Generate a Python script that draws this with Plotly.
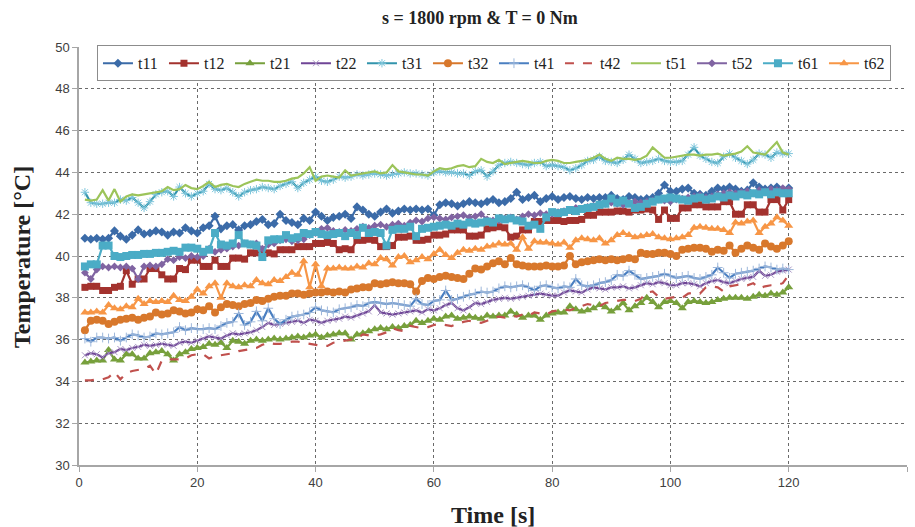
import plotly.graph_objects as go

time_s = list(range(1, 121))

t11 = [40.85, 40.80, 40.85, 40.80, 40.85, 41.20, 40.95, 40.80, 41.00, 41.25,
       41.05, 41.10, 41.20, 41.15, 41.00, 41.15, 41.10, 41.35, 41.20, 41.10,
       41.35, 41.45, 41.90, 41.30, 41.45, 41.50, 41.25, 41.45, 41.50, 41.65,
       41.75, 41.50, 41.55, 42.00, 41.70, 41.60, 41.50, 41.80, 41.70, 42.10,
       41.90, 41.70, 41.85, 41.90, 42.00, 41.80, 42.35, 42.20, 42.00, 41.90,
       42.10, 42.25, 42.05, 42.15, 42.25, 42.20, 42.25, 42.20, 42.25, 41.95,
       42.45, 42.55, 42.50, 42.40, 42.50, 42.60, 42.55, 42.50, 42.60, 42.70,
       42.55, 42.60, 42.75, 43.05, 42.70, 42.80, 42.90, 42.60, 42.75, 42.85,
       42.70, 42.80, 42.85, 42.75, 42.70, 42.80, 42.75, 42.80, 42.80, 42.90,
       42.75, 42.70, 42.85, 42.80, 42.70, 42.75, 42.80, 43.00, 43.40, 43.10,
       43.10, 43.20, 43.25, 43.00, 42.95, 42.90, 43.10, 43.25, 43.20, 43.30,
       43.20, 43.10, 43.15, 43.50, 43.30, 43.20, 43.25, 43.30, 43.15, 43.25]

t12 = [38.50, 38.55, 38.55, 38.35, 38.35, 38.50, 38.55, 39.30, 38.65, 38.90,
       38.90, 39.40, 39.40, 39.10, 38.90, 38.90, 39.40, 39.35, 39.80, 39.80,
       39.50, 39.50, 39.80, 39.50, 39.50, 39.90, 39.90, 39.85, 40.15, 40.15,
       40.10, 40.15, 40.10, 40.30, 40.30, 40.30, 40.45, 40.45, 40.45, 40.60,
       40.60, 40.65, 40.60, 40.30, 40.35, 40.30, 40.75, 40.75, 40.80, 40.75,
       40.45, 40.45, 40.50, 40.90, 40.90, 40.95, 40.75, 40.75, 40.80, 41.00,
       41.00, 41.05, 41.25, 41.25, 41.25, 40.95, 40.95, 41.00, 41.30, 41.35,
       41.40, 41.35, 40.90, 40.95, 41.25, 41.25, 41.65, 41.65, 41.70, 41.70,
       41.70, 41.65, 41.70, 41.70, 41.75, 41.95, 41.95, 42.10, 42.10, 42.10,
       42.15, 42.15, 42.10, 42.20, 42.20, 42.25, 42.20, 41.75, 42.20, 41.80,
       41.80, 42.30, 42.30, 42.45, 42.45, 42.35, 42.35, 42.35, 42.60, 42.60,
       42.00, 42.00, 42.45, 42.45, 42.10, 42.10, 42.70, 42.70, 42.20, 42.70]

t21 = [34.90, 34.95, 35.00, 35.00, 35.50, 35.05, 35.00, 35.30, 35.30, 35.10,
       35.10, 35.35, 35.40, 35.45, 35.30, 35.00, 35.30, 35.40, 35.55, 35.60,
       35.65, 35.80, 35.75, 35.85, 35.60, 35.95, 35.90, 35.80, 35.95, 36.00,
       35.95, 36.00, 36.05, 36.00, 36.05, 36.10, 36.15, 36.10, 36.20, 36.25,
       36.10, 36.20, 36.25, 36.30, 36.30, 36.00, 36.25, 36.30, 36.40, 36.50,
       36.55, 36.50, 36.60, 36.55, 36.65, 36.70, 36.90, 36.80, 36.90, 37.00,
       36.95, 37.10, 37.15, 37.00, 37.05, 37.10, 37.05, 37.00, 37.15, 37.10,
       37.15, 37.15, 37.35, 37.20, 37.05, 37.15, 37.15, 36.95, 37.15, 37.25,
       37.30, 37.30, 37.60, 37.45, 37.35, 37.40, 37.50, 37.65, 37.55, 37.35,
       37.50, 37.75, 37.40, 37.60, 37.75, 38.00, 37.80, 37.55, 37.80, 37.85,
       37.75, 37.50, 37.80, 37.85, 37.80, 37.75, 37.80, 37.90, 37.95, 38.00,
       38.00, 38.00, 37.95, 38.05, 38.15, 38.10, 38.20, 38.15, 38.25, 38.50]

t22 = [35.25, 35.35, 35.30, 35.15, 35.35, 35.40, 35.55, 35.50, 35.60, 35.65,
       35.75, 35.70, 35.75, 35.80, 35.75, 35.70, 35.85, 35.90, 35.85, 35.95,
       36.05, 36.15, 36.10, 36.05, 36.20, 36.30, 36.25, 36.30, 36.35, 36.45,
       36.60, 36.80, 36.70, 36.75, 36.80, 36.85, 36.90, 36.80, 36.95, 36.90,
       36.80, 36.90, 36.95, 37.00, 37.10, 37.05, 37.15, 37.25, 37.35, 37.65,
       37.30, 37.25, 37.20, 37.25, 37.30, 37.35, 37.40, 37.30, 37.45, 37.40,
       37.50, 37.65, 37.75, 37.50, 37.40, 37.55, 37.75, 37.70, 37.80, 37.90,
       37.95, 38.00, 37.95, 38.00, 38.05, 38.10, 38.15, 38.20, 38.15, 38.10,
       38.10, 38.25, 38.35, 38.30, 38.25, 38.40, 38.50, 38.45, 38.40, 38.50,
       38.50, 38.55, 38.45, 38.50, 38.60, 38.70, 38.65, 38.75, 38.70, 38.60,
       38.60, 38.70, 38.70, 38.65, 38.55, 38.70, 38.80, 38.85, 38.75, 38.70,
       38.80, 38.90, 38.95, 39.00, 39.30, 39.05, 39.10, 39.25, 39.30, 39.35]

t31 = [43.05, 42.55, 42.50, 42.50, 42.55, 42.55, 42.70, 42.65, 42.80, 42.55,
       42.30, 42.60, 42.95, 43.05, 43.10, 42.85, 43.30, 43.00, 42.85, 43.00,
       43.10, 43.45, 43.20, 43.15, 43.25, 43.05, 42.85, 43.05, 43.15, 43.20,
       43.30, 43.25, 43.20, 43.35, 43.45, 43.55, 43.25, 43.50, 43.65, 43.80,
       43.60, 43.55, 43.65, 43.80, 43.75, 43.80, 43.90, 43.85, 43.90, 43.95,
       43.90, 43.85, 43.90, 43.95, 44.00, 43.95, 43.95, 43.90, 43.85, 44.00,
       44.05, 44.00, 44.00, 43.95, 43.95, 43.85, 44.05, 44.10, 43.80, 44.05,
       44.35, 44.45, 44.50, 44.45, 44.40, 44.35, 44.45, 44.50, 44.30, 44.35,
       44.30, 44.25, 44.10, 44.20, 44.35, 44.55, 44.60, 44.75, 44.55, 44.50,
       44.45, 44.60, 44.85, 44.65, 44.45, 44.50, 44.55, 44.65, 44.55, 44.50,
       44.50, 44.55, 44.85, 45.20, 44.80, 44.65, 44.50, 44.45, 44.75, 44.90,
       44.70, 44.55, 44.40, 44.60, 44.90, 44.85, 44.70, 44.95, 44.90, 44.90]

t32 = [36.45, 36.90, 36.95, 36.90, 36.75, 36.85, 36.95, 37.00, 37.05, 36.95,
       37.05, 37.10, 37.30, 37.20, 37.25, 37.40, 37.35, 37.25, 37.30, 37.45,
       37.40, 37.60, 37.30, 37.55, 37.70, 37.65, 37.60, 37.70, 37.75, 37.90,
       37.85, 37.95, 38.05, 38.10, 38.10, 38.20, 38.20, 38.15, 38.20, 38.25,
       38.25, 38.30, 38.25, 38.30, 38.25, 38.40, 38.45, 38.50, 38.50, 38.70,
       38.65, 38.70, 38.75, 38.70, 38.70, 38.65, 38.30, 38.80, 38.95, 38.90,
       39.00, 39.05, 39.00, 38.95, 38.90, 39.15, 39.40, 39.35, 39.50, 39.65,
       39.75, 39.60, 39.90, 39.60, 39.55, 39.50, 39.50, 39.50, 39.55, 39.50,
       39.50, 39.55, 40.00, 39.60, 39.70, 39.75, 39.80, 39.85, 39.80, 39.85,
       39.80, 39.85, 39.90, 39.85, 40.15, 40.10, 40.10, 40.15, 40.15, 40.10,
       40.00, 40.30, 40.35, 40.40, 40.40, 40.35, 40.20, 40.30, 40.25, 40.50,
       40.15, 40.35, 40.50, 40.40, 40.30, 40.60, 40.45, 40.35, 40.50, 40.70]

t41 = [36.05, 35.90, 36.10, 36.10, 36.05, 36.10, 35.95, 36.10, 36.25, 36.20,
       36.10, 36.15, 36.30, 36.25, 36.30, 36.35, 36.60, 36.45, 36.55, 36.50,
       36.50, 36.55, 36.50, 36.65, 36.80, 36.85, 37.25, 36.70, 36.85, 37.35,
       36.90, 37.50, 37.00, 36.75, 36.95, 37.10, 37.15, 37.20, 37.30, 37.55,
       37.40, 37.35, 37.30, 37.45, 37.50, 37.55, 37.65, 37.60, 37.75, 37.80,
       37.75, 37.70, 37.75, 37.70, 37.65, 37.60, 37.95, 37.70, 37.65, 37.85,
       37.90, 38.35, 37.90, 37.95, 38.05, 38.15, 38.20, 38.30, 38.25, 38.30,
       38.45, 38.55, 38.50, 38.55, 38.60, 38.50, 38.35, 38.55, 38.60, 38.50,
       38.45, 38.55, 38.50, 38.90, 38.60, 38.55, 38.60, 38.70, 38.75, 38.85,
       39.10, 39.05, 39.30, 39.10, 38.90, 38.95, 39.00, 39.05, 39.15, 39.05,
       38.95, 39.00, 39.05, 38.95, 38.90, 39.00, 39.10, 39.45, 39.20, 38.95,
       39.15, 39.20, 39.25, 39.30, 39.40, 39.50, 39.45, 39.35, 39.40, 39.35]

t42 = [34.05, 34.05, 34.10, 34.10, 34.20, 34.45, 34.10, 34.40, 34.50, 34.55,
       34.60, 34.75, 34.35, 35.00, 35.05, 35.05, 35.05, 35.10, 35.25, 35.30,
       35.30, 35.10, 35.20, 35.25, 35.30, 35.35, 35.45, 35.50, 35.55, 35.60,
       35.75, 35.85, 35.80, 35.80, 35.85, 35.90, 35.90, 35.85, 35.80, 35.75,
       35.70, 35.70, 35.85, 35.90, 35.95, 36.00, 36.05, 36.25, 36.20, 36.20,
       36.25, 36.35, 36.55, 36.45, 36.40, 36.65, 36.60, 36.55, 36.60, 36.70,
       36.75, 36.70, 36.65, 36.75, 36.85, 36.90, 36.85, 36.80, 36.90, 37.05,
       37.10, 37.05, 37.15, 37.10, 37.20, 37.15, 37.30, 37.25, 37.20, 37.35,
       37.40, 37.45, 37.40, 37.50, 37.60, 37.70, 37.65, 37.60, 37.75, 37.80,
       37.85, 37.90, 37.90, 37.85, 37.95, 38.25, 38.30, 38.05, 37.95, 38.00,
       38.05, 38.00, 38.20, 38.25, 38.20, 38.50, 38.55, 38.50, 38.30, 38.55,
       38.60, 38.65, 38.60, 38.70, 38.45, 38.55, 38.60, 38.60, 38.70, 39.10]

t51 = [42.70, 42.65, 42.70, 43.15, 42.65, 43.20, 42.60, 42.85, 42.95, 42.90,
       42.95, 43.00, 43.05, 43.10, 43.30, 43.15, 43.20, 43.40, 43.25, 43.20,
       43.35, 43.55, 43.30, 43.40, 43.45, 43.35, 43.30, 43.45, 43.55, 43.65,
       43.60, 43.60, 43.55, 43.55, 43.60, 43.70, 43.75, 43.95, 44.25, 43.60,
       43.80, 43.85, 43.80, 43.75, 44.10, 43.85, 43.90, 43.95, 44.00, 44.05,
       43.95, 44.00, 44.35, 44.05, 44.00, 43.95, 43.90, 43.90, 43.85, 44.05,
       44.20, 44.15, 44.20, 44.30, 44.35, 44.25, 44.30, 44.65, 44.50, 44.45,
       44.60, 44.40, 44.45, 44.50, 44.55, 44.50, 44.45, 44.45, 44.55, 44.60,
       44.55, 44.45, 44.45, 44.50, 44.55, 44.60, 44.70, 44.85, 44.65, 44.55,
       44.70, 44.65, 44.65, 44.60, 44.65, 44.80, 45.20, 44.95, 44.70, 44.70,
       44.75, 44.80, 44.85, 44.85, 44.80, 44.85, 44.85, 44.90, 44.80, 44.85,
       44.90, 45.00, 45.25, 44.95, 44.90, 44.85, 45.15, 45.45, 44.95, 44.85]

t52 = [39.20, 38.90, 39.35, 39.50, 39.45, 39.50, 39.45, 39.50, 39.40, 38.90,
       39.50, 39.55, 39.50, 39.60, 39.85, 39.80, 39.95, 39.90, 40.00, 39.95,
       40.00, 40.35, 40.20, 40.30, 40.35, 40.45, 40.50, 40.60, 40.55, 40.60,
       40.35, 40.55, 40.60, 40.75, 40.80, 40.70, 40.75, 40.80, 41.00, 41.10,
       41.30, 41.35, 41.20, 41.15, 41.25, 41.20, 41.30, 41.40, 41.35, 41.45,
       41.50, 41.40, 41.50, 41.55, 41.45, 41.60, 41.70, 41.65, 41.80, 41.85,
       41.80, 41.75, 41.85, 41.90, 41.95, 41.85, 41.90, 42.00, 41.75, 41.70,
       41.70, 41.80, 41.85, 41.75, 41.90, 42.00, 41.95, 42.05, 42.00, 42.00,
       42.10, 42.15, 42.20, 42.30, 42.25, 42.35, 42.40, 42.45, 42.50, 42.55,
       42.50, 42.45, 42.55, 42.60, 42.55, 42.60, 42.65, 42.70, 42.65, 42.60,
       42.70, 42.75, 42.80, 42.85, 42.90, 42.80, 42.85, 42.95, 43.00, 43.05,
       43.00, 43.05, 43.10, 43.00, 43.15, 43.10, 43.20, 43.15, 43.25, 43.20]

t61 = [39.50, 39.60, 39.60, 40.50, 40.50, 40.00, 39.95, 40.00, 40.05, 40.05,
       40.10, 40.10, 40.15, 40.15, 40.20, 40.25, 40.20, 40.40, 40.40, 40.35,
       40.20, 40.30, 41.10, 40.55, 40.50, 40.60, 41.00, 40.60, 40.55, 40.50,
       39.95, 40.75, 40.80, 40.80, 41.00, 40.85, 40.90, 41.10, 41.05, 41.15,
       41.05, 41.00, 41.05, 41.10, 40.95, 41.10, 41.00, 41.35, 41.10, 41.15,
       41.10, 40.50, 41.25, 41.30, 41.30, 41.40, 40.95, 41.30, 41.35, 41.40,
       41.45, 41.50, 41.45, 41.55, 41.50, 41.60, 41.55, 41.60, 41.65, 41.60,
       41.80, 41.75, 41.80, 41.70, 41.65, 41.45, 41.50, 41.30, 41.85, 42.10,
       42.05, 42.10, 42.20, 42.15, 42.25, 42.30, 42.35, 42.45, 42.50, 42.75,
       42.55, 42.65, 42.50, 42.30, 42.35, 42.50, 42.60, 42.70, 42.75, 42.80,
       42.75, 42.70, 42.65, 42.75, 42.80, 42.70, 42.75, 42.85, 42.80, 42.90,
       42.85, 42.95, 42.90, 43.00, 42.95, 43.05, 42.95, 43.05, 43.00, 43.00]

t62 = [37.30, 37.30, 37.35, 37.30, 37.65, 37.50, 37.45, 37.60, 37.55, 37.95,
       37.70, 37.85, 37.80, 37.85, 37.80, 38.10, 37.90, 37.85, 38.05, 38.40,
       38.20, 38.55, 38.70, 38.00, 38.70, 38.55, 38.50, 38.60, 38.55, 38.85,
       38.70, 38.65, 38.85, 38.80, 39.00, 39.20, 39.10, 39.75, 38.50, 39.60,
       38.55, 39.40, 39.40, 39.45, 39.40, 39.40, 39.50, 39.45, 39.65, 39.60,
       39.90, 39.85, 39.55, 39.95, 40.00, 39.70, 39.80, 39.95, 39.85, 40.10,
       40.30, 40.05, 39.90, 40.15, 40.30, 40.25, 40.35, 40.30, 40.45, 40.50,
       40.60, 40.55, 40.60, 40.30, 40.90, 40.35, 40.70, 40.65, 40.65, 40.60,
       40.55, 40.65, 40.40, 40.75, 40.85, 40.80, 40.75, 40.85, 40.60, 40.75,
       41.00, 41.10, 41.00, 40.90, 40.95, 41.00, 41.05, 40.90, 40.85, 40.80,
       40.85, 40.90, 41.00, 41.35, 41.40, 41.35, 41.30, 41.30, 41.25, 41.10,
       41.60, 41.55, 41.65, 41.70, 41.10, 41.40, 41.55, 41.85, 41.70, 41.45]

series_names = ["t11", "t12", "t21", "t22", "t31", "t32",
                "t41", "t42", "t51", "t52", "t61", "t62"]
series_values = [t11, t12, t21, t22, t31, t32, t41, t42, t51, t52, t61, t62]

x_ticks = [0, 20, 40, 60, 80, 100, 120, 140]
y_ticks = [30, 32, 34, 36, 38, 40, 42, 44, 46, 48, 50]

# style per series: (line colour, marker symbol, marker size, marker colour, dash)
styles = {
    "t11": ("#3B6BA8", "diamond", 7, "#3B6BA8", "solid"),
    "t12": ("#A3322E", "square", 7, "#A3322E", "solid"),
    "t21": ("#77A03C", "triangle-up", 8, "#77A03C", "solid"),
    "t22": ("#6F4596", "x-thin-open", 6, "#A996C4", "solid"),
    "t31": ("#3294AC", "asterisk-open", 7, "#7FC6DC", "solid"),
    "t32": ("#D8782C", "circle", 8, "#D8782C", "solid"),
    "t41": ("#4A7FC1", "cross-thin-open", 7, "#9DB7DA", "solid"),
    "t42": ("#C0504D", None, 0, None, "dash"),
    "t51": ("#9CC45A", None, 0, None, "solid"),
    "t52": ("#8064A2", "diamond", 6, "#8064A2", "solid"),
    "t61": ("#4BACC6", "square", 8, "#4BACC6", "solid"),
    "t62": ("#F79646", "triangle-up", 8, "#F79646", "solid"),
}

fig = go.Figure()
for name, vals in zip(series_names, series_values):
    lc, sym, ms, mc, dash = styles[name]
    if sym is None:
        fig.add_trace(go.Scatter(x=time_s, y=vals, name=name, mode="lines",
                                 line=dict(color=lc, width=2.2, dash=dash)))
    else:
        if sym.endswith("-open"):
            marker = dict(symbol=sym, size=ms, color=mc,
                          line=dict(color=mc, width=1))
        else:
            marker = dict(symbol=sym, size=ms, color=mc, line=dict(width=0))
        fig.add_trace(go.Scatter(x=time_s, y=vals, name=name, mode="lines+markers",
                                 line=dict(color=lc, width=2.2, dash=dash),
                                 marker=marker))

serif = "Liberation Serif, Times New Roman, serif"
sans = "Liberation Sans, Arial, sans-serif"

fig.update_layout(
    width=915, height=527,
    margin=dict(l=79, r=8, t=47, b=62),
    paper_bgcolor="white", plot_bgcolor="white",
    showlegend=True,
    legend=dict(orientation="h", x=0.0217, y=1.004, xanchor="left", yanchor="top",
                bgcolor="white", bordercolor="#8C8C8C", borderwidth=1,
                font=dict(family=serif, size=16, color="#222"),
                itemwidth=30, entrywidth=21, tracegroupgap=0),
    annotations=[
        dict(text="<b>s = 1800 rpm & T = 0 Nm</b>", xref="paper", yref="paper",
             x=0.484, y=(465 - 18) / 418, xanchor="center", yanchor="middle",
             showarrow=False, font=dict(family=serif, size=18, color="#222")),
        dict(text="<b>Time [s]</b>", xref="paper", yref="paper",
             x=0.5, y=-0.1196, xanchor="center", yanchor="middle",
             showarrow=False, font=dict(family=serif, size=24, color="#222")),
        dict(text="<b>Temperature [°C]</b>", xref="paper", yref="paper",
             x=-0.0688, y=0.4976, xanchor="center", yanchor="middle", textangle=-90,
             showarrow=False, font=dict(family=serif, size=24, color="#222")),
    ],
)

fig.update_xaxes(range=[0, 140], tickvals=x_ticks, showgrid=True,
                 gridcolor="#6A6A6A", griddash="3px,3px", gridwidth=1,
                 showline=True, linecolor="#A6A6A6", linewidth=1.5,
                 ticks="outside", ticklen=5, tickcolor="#A6A6A6",
                 zeroline=False,
                 tickfont=dict(family=sans, size=13, color="#404040"))
fig.update_yaxes(range=[30, 50], tickvals=y_ticks, showgrid=True,
                 gridcolor="#6A6A6A", griddash="3px,3px", gridwidth=1,
                 showline=True, linecolor="#A6A6A6", linewidth=1.5,
                 ticks="outside", ticklen=5, tickcolor="#A6A6A6",
                 zeroline=False,
                 tickfont=dict(family=sans, size=13, color="#404040"))

fig.write_html("out.html")
